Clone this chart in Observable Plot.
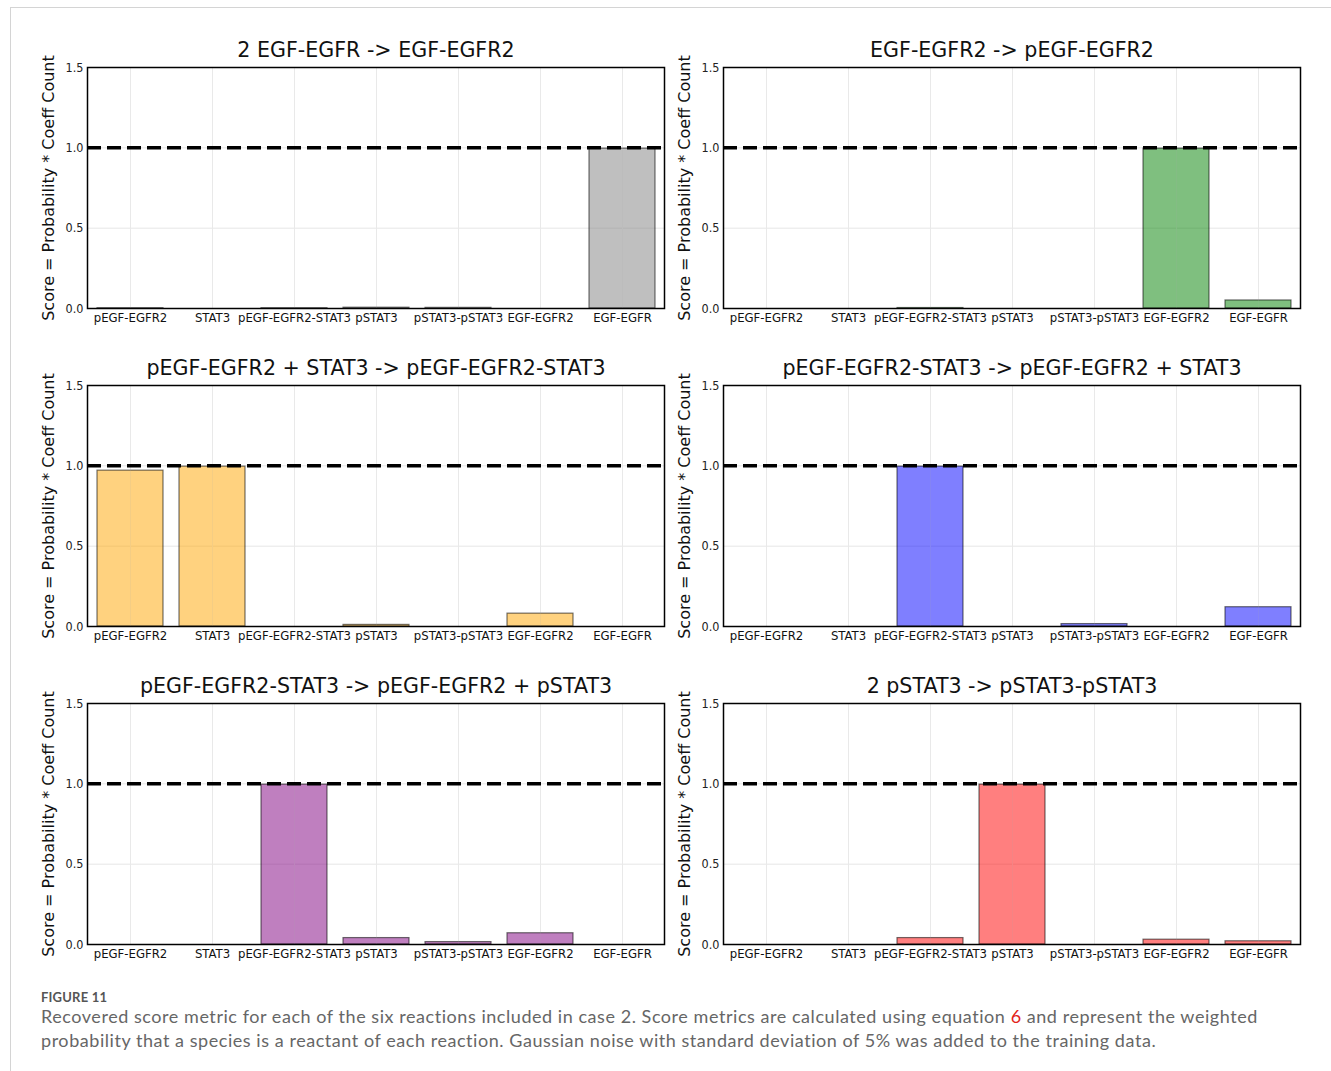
<!DOCTYPE html>
<html>
<head>
<meta charset="utf-8">
<script src="https://cdn.jsdelivr.net/npm/d3@7"></script>
<script src="https://cdn.jsdelivr.net/npm/@observablehq/plot@0.6"></script>
<style>
  html, body { margin: 0; padding: 0; background: #fff; }
  body { width: 1331px; height: 1071px; position: relative; overflow: hidden; font-family: "DejaVu Sans", sans-serif; }
  #frameTop { position: absolute; left: 10px; top: 7px; width: 1321px; height: 1px; background: #d4d4d4; }
  #frameLeft { position: absolute; left: 10px; top: 7px; width: 1px; height: 1064px; background: #d4d4d4; }
  .panel { position: absolute; }
  #caption { position: absolute; left: 41px; top: 988px; width: 1280px; color: #666; font-family: Lato, "Open Sans", sans-serif; white-space: nowrap; }
  #caption .fig { font-size: 13px; font-weight: bold; color: #555; letter-spacing: 0.2px; line-height: 18px; }
  #caption .body { font-size: 18px; line-height: 24px; margin-top: -2px; letter-spacing: 0.55px; }
  #caption .ref { color: #e2231a; }
</style>
</head>
<body>
<div id="frameTop"></div>
<div id="frameLeft"></div>
<div id="charts"></div>
<div id="caption">
  <div class="fig">FIGURE 11</div>
  <div class="body">Recovered score metric for each of the six reactions included in case 2. Score metrics are calculated using equation <span class="ref">6</span> and represent the weighted<br>probability that a species is a reactant of each reaction. Gaussian noise with standard deviation of 5% was added to the training data.</div>
</div>
<script>
const species = ["pEGF-EGFR2", "STAT3", "pEGF-EGFR2-STAT3", "pSTAT3", "pSTAT3-pSTAT3", "EGF-EGFR2", "EGF-EGFR"];
const yTicks = [0, 0.5, 1.0, 1.5];
const threshold = 1.0;

const titles = [
  "2 EGF-EGFR -> EGF-EGFR2",
  "EGF-EGFR2 -> pEGF-EGFR2",
  "pEGF-EGFR2 + STAT3 -> pEGF-EGFR2-STAT3",
  "pEGF-EGFR2-STAT3 -> pEGF-EGFR2 + STAT3",
  "pEGF-EGFR2-STAT3 -> pEGF-EGFR2 + pSTAT3",
  "2 pSTAT3 -> pSTAT3-pSTAT3"
];
const colors = ["gray", "green", "orange", "blue", "purple", "red"];

const scores1 = [0.002, 0.0, 0.002, 0.005, 0.004, 0.0, 0.995];
const scores2 = [0.0, 0.0, 0.003, 0.0, 0.0, 0.995, 0.05];
const scores3 = [0.97, 0.995, 0.0, 0.01, 0.0, 0.08, 0.0];
const scores4 = [0.0, 0.0, 0.995, 0.0, 0.015, 0.0, 0.12];
const scores5 = [0.0, 0.0, 0.995, 0.04, 0.015, 0.07, 0.0];
const scores6 = [0.0, 0.0, 0.04, 0.995, 0.0, 0.03, 0.02];
const allScores = [scores1, scores2, scores3, scores4, scores5, scores6];

const positions = [[30, 30], [666, 30], [30, 348], [666, 348], [30, 666], [666, 666]];

const container = document.getElementById("charts");
allScores.forEach((scores, i) => {
  const data = species.map((s, j) => ({species: s, score: scores[j]}));
  const chart = Plot.plot({
    width: 640,
    height: 303,
    marginLeft: 57,
    marginRight: 6,
    marginTop: 37,
    marginBottom: 25,
    style: {fontFamily: "DejaVu Sans", background: "#fff", overflow: "visible"},
    x: {domain: species, paddingInner: 0.2, paddingOuter: 0.1, align: 0.5},
    y: {domain: [0, 1.5]},
    marks: [
      Plot.ruleX(species, {x: d => d, stroke: "#e6e6e6", strokeWidth: 1}),
      Plot.ruleY([0.5, 1.0], {stroke: "#e6e6e6", strokeWidth: 1}),
      Plot.barY(data, {x: "species", y: "score", fill: colors[i], fillOpacity: 0.5, stroke: "black", strokeOpacity: 0.55, strokeWidth: 1.2}),
      Plot.ruleX(species, {x: d => d, stroke: "#fff", strokeOpacity: 0.12, strokeWidth: 1}),
      Plot.ruleY([threshold], {stroke: "black", strokeWidth: 3.5, strokeDasharray: "14,6"}),
      Plot.frame({stroke: "black", strokeWidth: 1.5}),
      Plot.axisX({tickSize: 0, tickPadding: 4, label: null, fontSize: 13, fontFamily: "DejaVu Sans Condensed, DejaVu Sans", fill: "#111"}),
      Plot.axisY({ticks: yTicks, tickFormat: d3.format(".1f"), tickSize: 0, tickPadding: 4, label: null, fontSize: 12.5, fontFamily: "DejaVu Sans Condensed, DejaVu Sans", fill: "#222"}),
      Plot.text([titles[i]], {frameAnchor: "top", text: d => d, lineAnchor: "bottom", dy: -11, fontSize: 20.6, fill: "#111"}),
      Plot.text(["Score = Probability * Coeff Count"], {frameAnchor: "left", text: d => d, textAnchor: "middle", rotate: -90, dx: -39, fontSize: 16, fill: "#111"})
    ]
  });
  const wrap = document.createElement("div");
  wrap.className = "panel";
  wrap.style.left = positions[i][0] + "px";
  wrap.style.top = positions[i][1] + "px";
  wrap.appendChild(chart);
  container.appendChild(wrap);
});
</script>
</body>
</html>
